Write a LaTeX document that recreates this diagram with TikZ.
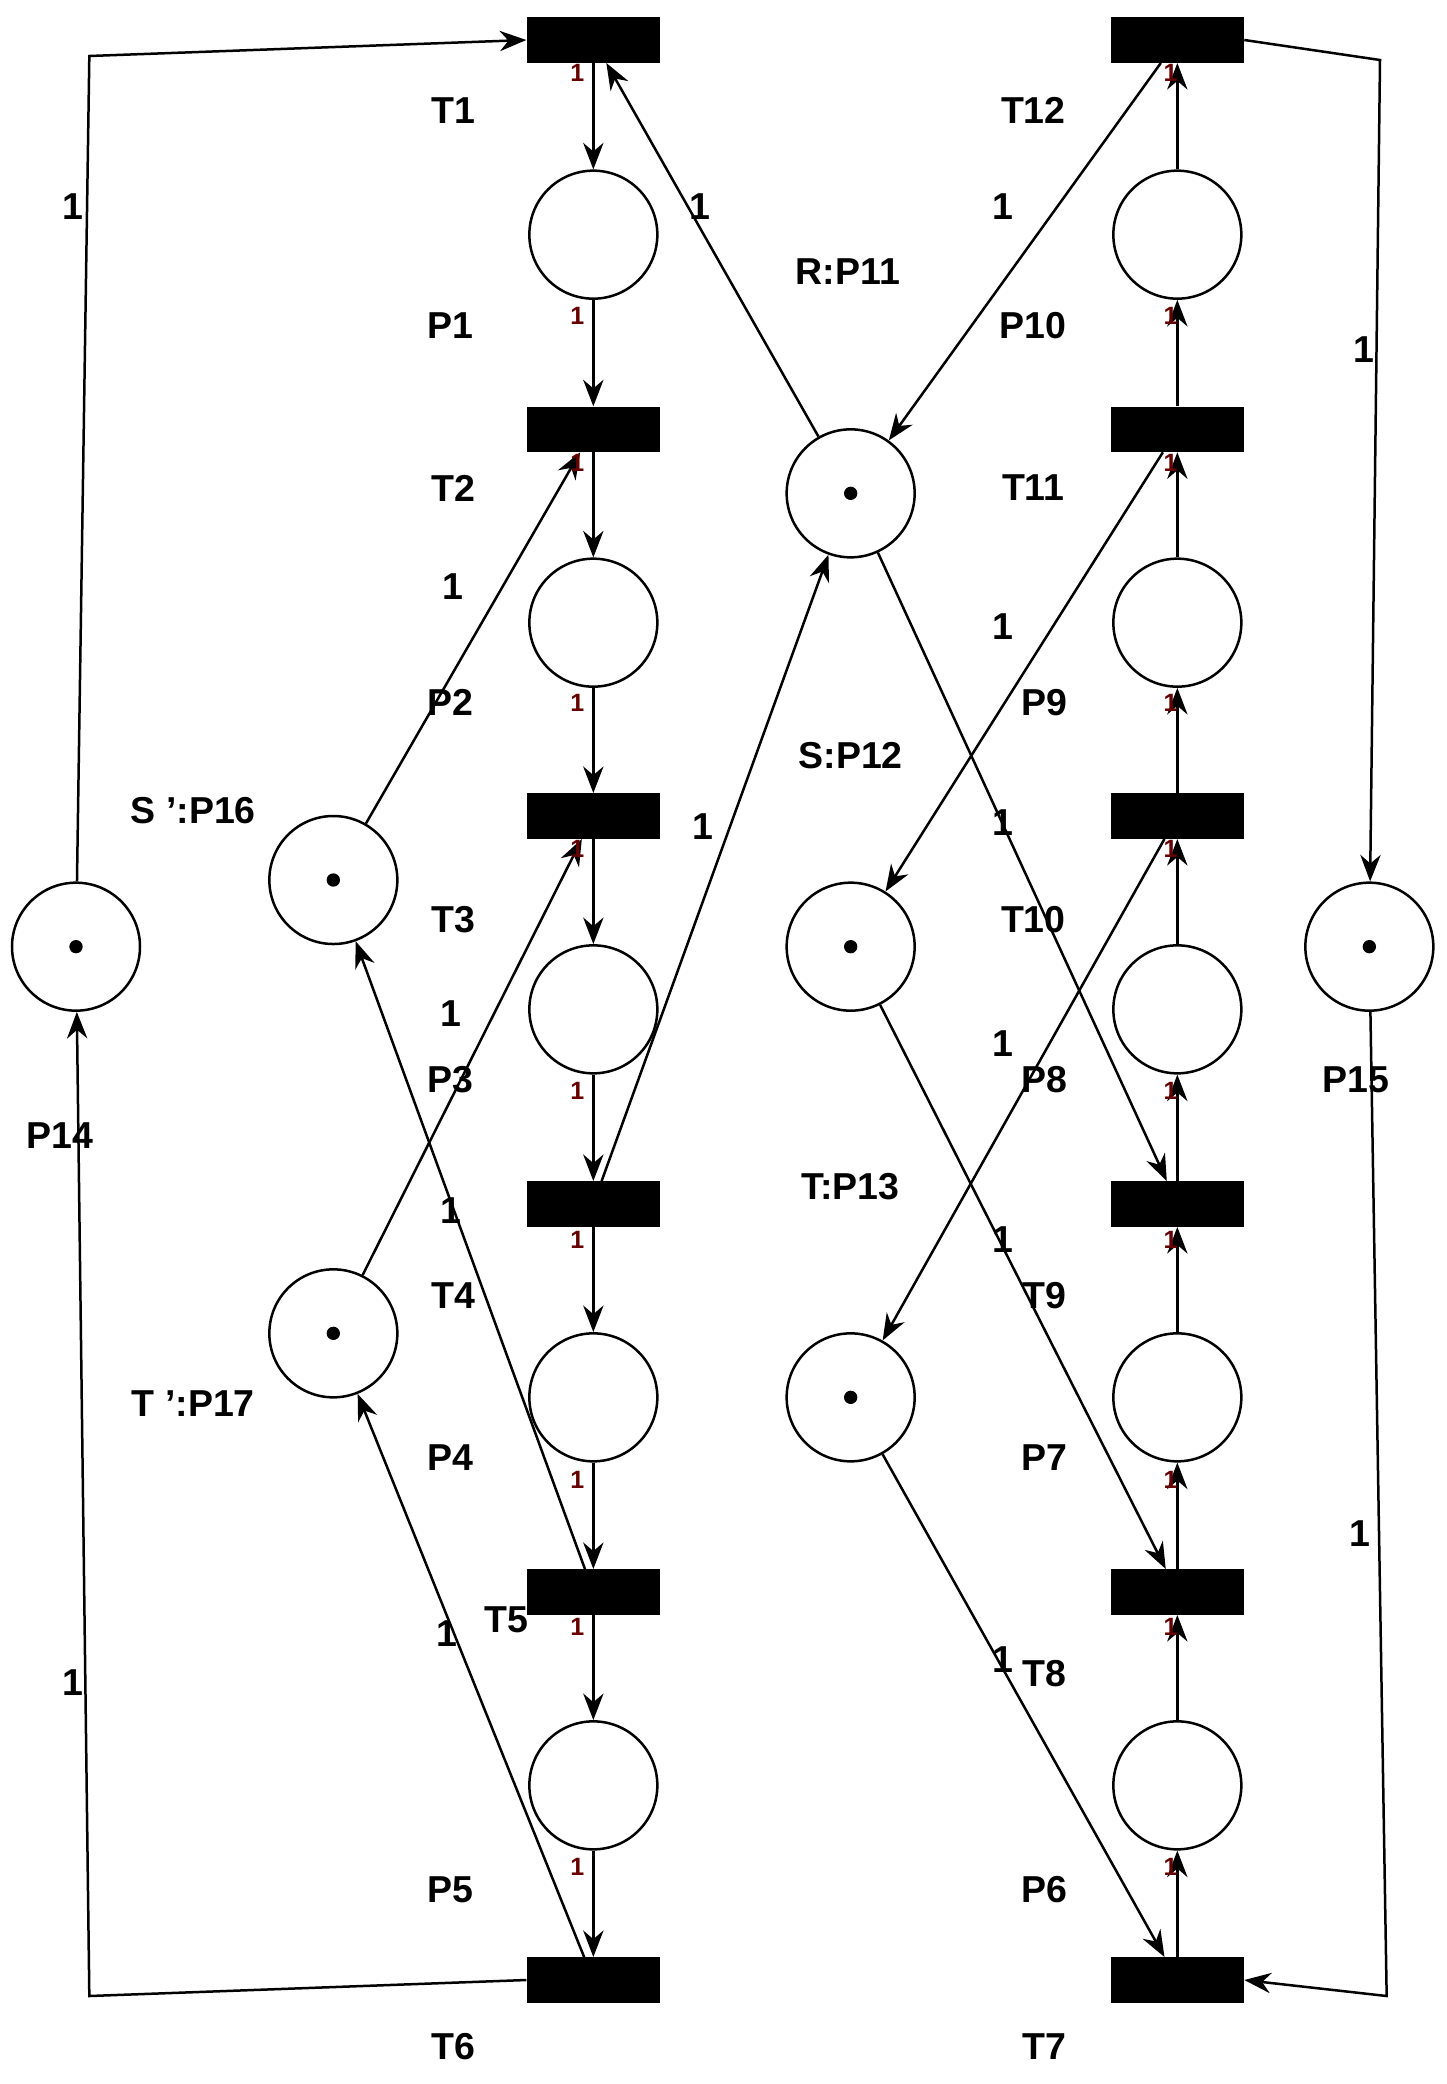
\documentclass[tikz,border=0pt]{standalone}
\usepackage{fontspec}
\setmainfont{Liberation Sans}
\usetikzlibrary{arrows.meta}
\begin{document}
\begin{tikzpicture}[x=0.03cm,y=-0.03cm,
 pl/.style={circle,draw,line width=1.6pt,minimum size=2.88cm,inner sep=0pt},
 tr/.style={rectangle,fill=black,minimum width=3cm,minimum height=1.02cm,inner sep=0pt},
 tok/.style={circle,fill=black,inner sep=0pt,minimum size=0.3cm},
 lb/.style={font=\fontsize{24}{28}\selectfont\bfseries},
 wt/.style={font=\fontsize{24}{28}\selectfont\bfseries},
 sw/.style={font=\fontsize{16}{18}\selectfont\bfseries,text=red!40!black},
 arc/.style={line width=1.6pt,-{Stealth[length=17pt,width=13pt]}}]
\useasboundingbox (0,0) rectangle (1085,1563);
% left column
\foreach \n/\y in {1/30,2/322,3/612,4/903,5/1194,6/1485}{\node[tr] (T\n) at (445,\y) {};}
\foreach \n/\y in {1/176,2/467,3/757,4/1048,5/1339}{\node[pl] (P\n) at (445,\y) {};}
\foreach \n/\y in {12/30,11/322,10/612,9/903,8/1194,7/1485}{\node[tr] (T\n) at (883,\y) {};}
\foreach \n/\y in {10/176,9/467,8/757,7/1048,6/1339}{\node[pl] (P\n) at (883,\y) {};}
\foreach \n/\x/\y in {14/57/710,15/1027/710,16/250/660,17/250/1000,11/638/370,12/638/710,13/638/1048}{
 \node[pl] (P\n) at (\x,\y) {}; \node[tok] at (\x,\y) {};}
% column arcs
\foreach \a/\b in {T1/P1,P1/T2,T2/P2,P2/T3,T3/P3,P3/T4,T4/P4,P4/T5,T5/P5,P5/T6,
 T7/P6,P6/T8,T8/P7,P7/T9,T9/P8,P8/T10,T10/P9,P9/T11,T11/P10,P10/T12}{\draw[arc] (\a) -- (\b);}
% side loops
\coordinate (c1) at (67,42); \coordinate (c2) at (67,1497);
\coordinate (c3) at (1035,45); \coordinate (c4) at (1040,1497);
\draw[arc] (P14) -- (c1) -- (T1.west);
\draw[arc] (T6.west) -- (c2) -- (P14);
\draw[arc] (T12.east) -- (c3) -- (P15);
\draw[arc] (P15) -- (c4) -- (T7.east);
% cross arcs
\draw[arc] (P11) -- (T1);
\draw[arc] (T12) -- (P11);
\draw[arc] (P11) -- (T9);
\draw[arc] (T4) -- (P11);
\draw[arc] (P16) -- (T2);
\draw[arc] (T5) -- (P16);
\draw[arc] (P17) -- (T3);
\draw[arc] (T6) -- (P17);
\draw[arc] (T11) -- (P12);
\draw[arc] (P12) -- (T8);
\draw[arc] (T10) -- (P13);
\draw[arc] (P13) -- (T7);
% labels
\foreach \t/\x/\y in {T1/340/83,P1/338/244,T2/340/366,P2/338/527,T3/340/690,P3/338/810,T4/340/972,P4/338/1093,T5/380/1215,P5/338/1417,T6/340/1535,
 T12/775/83,P10/775/244,T11/775/366,P9/783/527,T10/775/690,P8/783/810,T9/783/972,P7/783/1093,T8/783/1255,P6/783/1417,T7/783/1535,
 P14/45/852,P15/1017/810,{S ':P16}/145/608,{T ':P17}/145/1053,R:P11/636/204,S:P12/638/567,T:P13/638/890}
 \node[lb] at (\x,\y) {\t};
\foreach \x/\y in {55/155,1023/262,525/155,752/155,340/440,527/620,752/470,752/617,338/760,752/783,338/908,752/930,335/1225,752/1245,55/1262,1020/1150}
 \node[wt] at (\x,\y) {1};
\foreach \y in {55,237,347,527,637,818,930,1110,1220,1400}{\node[sw] at (433,\y) {1};\node[sw] at (878,\y) {1};}
\end{tikzpicture}
\end{document}
